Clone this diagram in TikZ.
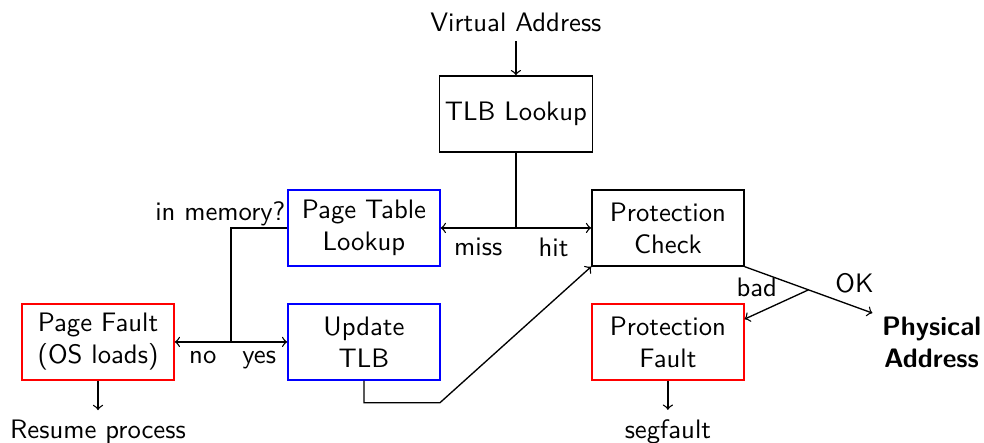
\documentclass[tikz,border=0pt]{standalone}
\usepackage{tikz}
\tikzset{every picture/.style={line width=0.5pt}}
\tikzset{
  stagebox/.style={draw,minimum width=2cm,minimum height=1cm,align=center,inner sep=2pt},
  lookbox/.style={stagebox,draw=blue},
  faultbox/.style={stagebox,draw=red}
}
\begin{document}
\begin{tikzpicture}[x=1cm,y=1cm,font=\sffamily]
\useasboundingbox (-6.79,-4.32) rectangle (6.16,1.50);
\node (virt) at (0,1.21) {Virtual Address};
\node[stagebox] (tlb) at (0,0) {TLB Lookup};
\node[lookbox] (ptl) at (-2,-1.5) {Page Table\\Lookup};
\node[stagebox] (pc) at (2,-1.5) {Protection\\Check};
\node[faultbox] (pf) at (-5.5,-3) {Page Fault\\(OS loads)};
\node[lookbox] (utlb) at (-2,-3) {Update\\TLB};
\node[faultbox] (pfault) at (2,-3) {Protection\\Fault};
\node[font=\sffamily\bfseries,align=center] (phys) at (5.47,-3) {Physical\\Address};
\node (resume) at (-5.5,-4.18) {Resume process};
\node (segv) at (2,-4.18) {segfault};
\coordinate (tlbsplit) at (0,-1.5);
\coordinate (memsplit) at (-3.75,-3);
\coordinate (utlbturn) at (-1,-3.8);
\draw[->] (virt) -- (tlb);
\draw (tlb) -- (tlbsplit);
\draw[->] (tlbsplit) -- node[below] {miss} (ptl);
\draw[->] (tlbsplit) -- node[below] {hit} (pc);
\draw (ptl.west) node[above left,inner sep=0.5pt] {in memory?} -| (memsplit);
\draw[->] (memsplit) -- node[below] {no} (pf);
\draw[->] (memsplit) -- node[below] {yes} (utlb);
\draw[->] (utlb.south) |- (utlbturn) -- (pc.south west);
\draw[->] (pc.south east) -- node[coordinate,pos=0.5] (pcsplit) {}
  node[above,pos=0.86,yshift=0.5mm] {OK} ([yshift=3.8mm]phys.west);
\draw[->] (pcsplit) -- node[above left,pos=0.44,inner sep=1pt,yshift=0.3mm] {bad} ([yshift=3mm]pfault.east);
\draw[->] (pf) -- (resume);
\draw[->] (pfault) -- (segv);
\end{tikzpicture}
\end{document}
